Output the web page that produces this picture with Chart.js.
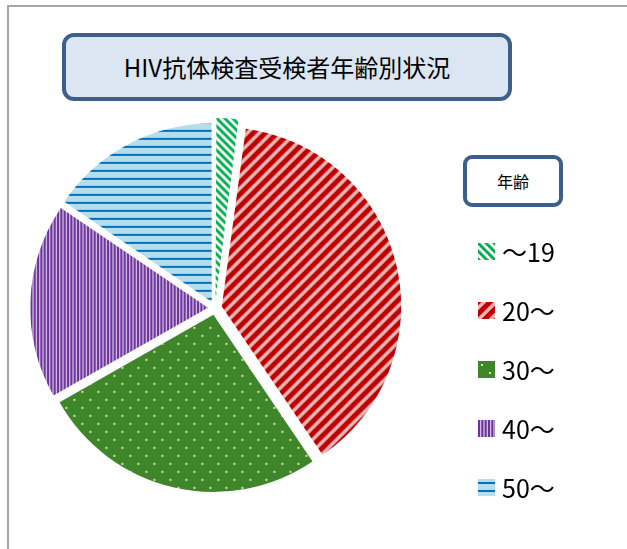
<!DOCTYPE html>
<html>
<head>
<meta charset="utf-8">
<script src="https://cdn.jsdelivr.net/npm/chart.js@4"></script>
<style>
  body { margin: 0; background: #fff; font-family: "Noto Sans CJK JP", "Noto Sans", sans-serif; }
  #wrap { position: relative; width: 627px; height: 549px; overflow: hidden; }
  #frame { position: absolute; left: 7px; top: 5px; width: 640px; height: 560px;
           border-left: 2px solid #a6a6a6; border-top: 2px solid #a6a6a6; }
  #title { position: absolute; left: 62px; top: 33px; width: 442px; height: 60px;
           border: 4px solid #3d5f8b; border-radius: 12px; background: #dce6f2;
           font-size: 24px; line-height: 60px; text-align: center; color: #000; }
  #pieBox { position: absolute; left: 24px; top: 117px; width: 382px; height: 382px; }
  #legTitle { position: absolute; left: 463px; top: 155px; width: 92px; height: 44px;
              border: 4px solid #3d5f8b; border-radius: 9px; background: #fff;
              font-size: 16px; line-height: 44px; text-align: center; }
  .leg { position: absolute; left: 478px; height: 30px; display: flex; align-items: center;
         font-size: 25px; color: #000; }
  .leg canvas { width: 17px; height: 17px; margin-right: 7px; }
</style>
</head>
<body>
<div id="wrap">
  <div id="frame"></div>
  <div id="title">HIV抗体検査受検者年齢別状況</div>
  <div id="pieBox"><canvas id="pie"></canvas></div>
  <div id="legTitle">年齢</div>
  <div id="legend"></div>
</div>
<script>
// age groups and share of examinees (%)
const ageLabels = ['～19', '20～', '30～', '40～', '50～'];
const agePercent = [2.1, 38.4, 26.2, 17.7, 15.5];
const legendTitle = '年齢';

function makeTile(w, h, draw) {
  const c = document.createElement('canvas');
  c.width = w; c.height = h;
  draw(c.getContext('2d'), w, h);
  return c;
}

// tiles for each slice fill
const tiles = [
  makeTile(8, 8, function (g, w, h) {
    g.fillStyle = '#fff'; g.fillRect(0, 0, w, h);
    g.strokeStyle = '#00b050'; g.lineWidth = 3;
    g.beginPath();
    g.moveTo(-2, -2); g.lineTo(w + 2, h + 2);
    g.moveTo(-2 - w, -2); g.lineTo(2, h + 2);
    g.moveTo(w - 2, -2); g.lineTo(2 * w + 2, h + 2);
    g.stroke();
  }),
  makeTile(12, 12, function (g, w, h) {
    g.fillStyle = '#e6b9b8'; g.fillRect(0, 0, w, h);
    g.strokeStyle = '#c00000'; g.lineWidth = 5;
    g.beginPath();
    g.moveTo(-2, h + 2); g.lineTo(w + 2, -2);
    g.moveTo(-2 - w, h + 2); g.lineTo(2, -2);
    g.moveTo(w - 2, h + 2); g.lineTo(2 * w + 2, -2);
    g.stroke();
  }),
  makeTile(16, 16, function (g, w, h) {
    g.fillStyle = '#3f862b'; g.fillRect(0, 0, w, h);
    g.fillStyle = '#d2e2b4';
    g.fillRect(3, 3, 2, 2);
    g.fillRect(11, 11, 2, 2);
  }),
  makeTile(10, 10, function (g, w, h) {
    g.fillStyle = '#ccc0da'; g.fillRect(0, 0, w, h);
    g.fillStyle = '#7030a0';
    g.fillRect(0, 0, 2, h);
    g.fillRect(3.33, 0, 2, h);
    g.fillRect(6.67, 0, 2, h);
  }),
  makeTile(8, 8, function (g, w, h) {
    g.fillStyle = '#b7dde8'; g.fillRect(0, 0, w, h);
    g.fillStyle = '#0070c0';
    g.fillRect(0, 3, w, 2);
  })
];

const ctx = document.getElementById('pie').getContext('2d');
const fills = tiles.map(function (t) { return ctx.createPattern(t, 'repeat'); });

new Chart(ctx, {
  type: 'pie',
  data: {
    labels: ageLabels,
    datasets: [{
      data: agePercent,
      backgroundColor: fills,
      borderWidth: 0,
      offset: 28
    }]
  },
  options: {
    responsive: true,
    maintainAspectRatio: false,
    animation: false,
    layout: { padding: 0 },
    plugins: {
      legend: { display: false },
      tooltip: { enabled: false }
    }
  }
});

// legend built from the same labels and tiles
const legend = document.getElementById('legend');
const rowTop = [236, 295, 354, 413, 472];
ageLabels.forEach(function (lab, i) {
  const row = document.createElement('div');
  row.className = 'leg';
  row.style.top = rowTop[i] + 'px';
  const sw = document.createElement('canvas');
  sw.width = 17; sw.height = 17;
  const sg = sw.getContext('2d');
  sg.fillStyle = sg.createPattern(tiles[i], 'repeat');
  sg.fillRect(0, 0, 17, 17);
  row.appendChild(sw);
  const tx = document.createElement('span');
  tx.textContent = lab;
  row.appendChild(tx);
  legend.appendChild(row);
});
document.getElementById('legTitle').textContent = legendTitle;
</script>
</body>
</html>
